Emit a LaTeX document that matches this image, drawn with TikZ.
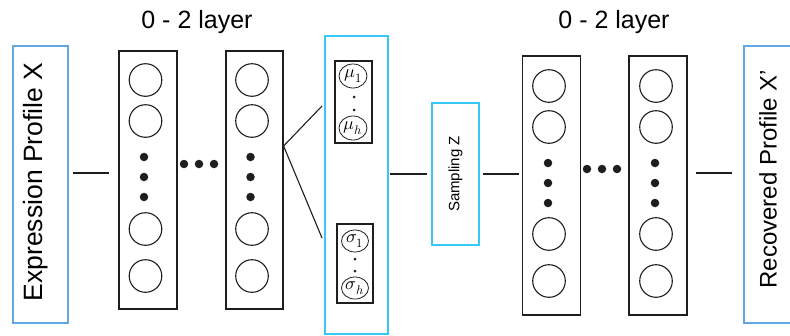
\documentclass[tikz,border=0pt]{standalone}
\usepackage{fontspec}
\usepackage{unicode-math}
\setmainfont{Liberation Sans}
\usetikzlibrary{calc,shapes.geometric}
\definecolor{edgeblue}{RGB}{98,166,226}
\definecolor{latentcyan}{RGB}{56,200,245}
\definecolor{ink}{RGB}{30,30,30}
\tikzset{
  iobox/.style={draw=edgeblue, line width=1.4pt, rectangle, inner sep=0pt,
                minimum width=55, minimum height=277},
  layerbox/.style={draw=ink, line width=1.2pt, rectangle, inner sep=0pt,
                   minimum width=58, minimum height=258},
  neuron/.style={draw=ink, line width=1.1pt, circle, inner sep=0pt, minimum size=32.6},
  bigdot/.style={fill=ink, circle, inner sep=0pt, minimum size=8.5},
  tinydot/.style={fill=ink, circle, inner sep=0pt, minimum size=3},
  statbox/.style={draw=ink, line width=1.3pt, rectangle, inner sep=0pt},
  statnode/.style={draw=ink, line width=0.8pt, ellipse, inner sep=0pt,
                   minimum width=28, minimum height=24, font=\fontsize{18}{18}\selectfont},
  link/.style={draw=ink, line width=1.1pt},
  caption/.style={font=\fontsize{25}{25}\selectfont}
}
\begin{document}
\begin{tikzpicture}[x=1pt,y=-1pt]
\useasboundingbox (0,0) rectangle (790,335);

% captions over encoder and decoder
\node[caption] (capenc) at (197,22) {0 - 2 layer};
\node[caption] (capdec) at (614,22) {0 - 2 layer};

% input and output profiles
\node[iobox] (in) at (40.5,184.5) {};
\node[rotate=90, font=\fontsize{26.5}{26.5}\selectfont] (intext) at (36,182) {Expression Profile X};
\node[iobox, minimum width=56] (out) at (772,184.5) {};
\node[rotate=90, font=\fontsize{24}{24}\selectfont] (outtext) at (768,179) {Recovered Profile X’};

% encoder layers
\node[layerbox] (l1) at (148,180) {};
\node[layerbox, minimum width=57] (l2) at (254.5,180) {};
\foreach \lay/\cx in {l1/145.5, l2/252} {
  \node[neuron] (\lay n1) at (\cx,80) {};
  \node[neuron] (\lay n2) at (\cx,121) {};
  \node[neuron] (\lay n3) at (\cx,229) {};
  \node[neuron] (\lay n4) at (\cx,276) {};
  \node[bigdot] (\lay d1) at (\cx-1.5,157) {};
  \node[bigdot] (\lay d2) at (\cx-1.5,177) {};
  \node[bigdot] (\lay d3) at (\cx-1.5,197) {};
}
\node[bigdot] (eh1) at (184,164) {};
\node[bigdot] (eh2) at (199,164) {};
\node[bigdot] (eh3) at (214,164) {};

% latent statistics
\node[draw=latentcyan, line width=2pt, rectangle, inner sep=0pt,
      minimum width=63, minimum height=298] (mid) at (356.5,185) {};
\node[statbox, minimum width=37, minimum height=82] (mu) at (353.5,102) {};
\node[statnode] (mu1) at (353,76) {$\mu_1$};
\node[tinydot] (mud1) at (354,97) {};
\node[tinydot] (mud2) at (354,110) {};
\node[statnode] (muh) at (353,128) {$\mu_h$};
\node[statbox, minimum width=36, minimum height=79] (sig) at (355,263.5) {};
\node[statnode, minimum width=27, minimum height=22] (sig1) at (355,241) {$\sigma_1$};
\node[tinydot] (sigd1) at (355,259) {};
\node[tinydot] (sigd2) at (355,271) {};
\node[statnode, minimum width=27, minimum height=22] (sigh) at (355,288) {$\sigma_h$};

% sampling
\node[draw=latentcyan, line width=1.4pt, rectangle, inner sep=0pt,
      minimum width=47, minimum height=142] (samp) at (455.5,174) {};
\node[rotate=90, font=\fontsize{15}{15}\selectfont] (samptext) at (455.5,174) {Sampling Z};

% decoder layers
\node[layerbox, minimum height=259] (l3) at (551.5,185.5) {};
\node[layerbox, minimum height=259] (l4) at (658,185.5) {};
\foreach \lay/\cx in {l3/549, l4/656} {
  \node[neuron] (\lay n1) at (\cx,86) {};
  \node[neuron] (\lay n2) at (\cx,127) {};
  \node[neuron] (\lay n3) at (\cx,234) {};
  \node[neuron] (\lay n4) at (\cx,281) {};
  \node[bigdot] (\lay d1) at (\cx-1,163) {};
  \node[bigdot] (\lay d2) at (\cx-1,183) {};
  \node[bigdot] (\lay d3) at (\cx-1,203) {};
}
\node[bigdot] (dh1) at (587,169) {};
\node[bigdot] (dh2) at (602,169) {};
\node[bigdot] (dh3) at (617,169) {};

% connectors
\coordinate (rowin) at (0,173);
\coordinate (rowz) at (0,174);
\coordinate (fork) at (0,146);
\coordinate (muend) at (0,106);
\coordinate (sigend) at (0,238);
\draw[link] ([xshift=4pt]in.east |- rowin) -- ([xshift=-9pt]l1.west |- rowin);
\draw[link] (l2.east |- fork) -- ([xshift=-2pt]mid.west |- muend);
\draw[link] (l2.east |- fork) -- ([xshift=-2pt]mid.west |- sigend);
\draw[link] ([xshift=1pt]mid.east |- rowz) -- ([xshift=-4pt]samp.west);
\draw[link] ([xshift=3pt]samp.east) -- ([xshift=-3pt]l3.west |- rowz);
\draw[link] ([xshift=8pt]l4.east |- rowin) -- ([xshift=-11pt]out.west |- rowin);
\end{tikzpicture}
\end{document}
